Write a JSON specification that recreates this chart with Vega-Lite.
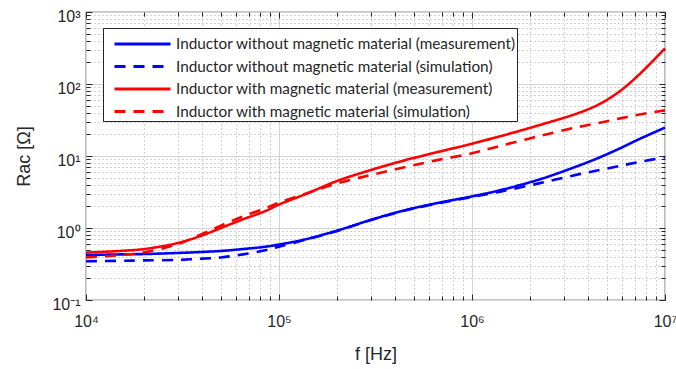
{
  "$schema": "https://vega.github.io/schema/vega-lite/v6.json",
  "width": 579,
  "height": 288,
  "autosize": {"type": "none"},
  "padding": {"left": 86, "top": 12, "right": 11, "bottom": 69},
  "background": "white",
  "config": {
    "view": {"stroke": "#262626", "strokeWidth": 1.2},
    "axis": {"labelFont": "Liberation Sans", "titleFont": "Liberation Sans", "labelColor": "#262626", "titleColor": "#262626", "tickColor": "#262626", "domain": false}
  },
  "datasets": {
    "curves": [
      {"f": 10000, "R": 0.42, "series": "Inductor without magnetic material (measurement)"},
      {"f": 15000, "R": 0.43, "series": "Inductor without magnetic material (measurement)"},
      {"f": 20000, "R": 0.435, "series": "Inductor without magnetic material (measurement)"},
      {"f": 30000, "R": 0.45, "series": "Inductor without magnetic material (measurement)"},
      {"f": 40000, "R": 0.465, "series": "Inductor without magnetic material (measurement)"},
      {"f": 50000, "R": 0.48, "series": "Inductor without magnetic material (measurement)"},
      {"f": 65000, "R": 0.51, "series": "Inductor without magnetic material (measurement)"},
      {"f": 85000, "R": 0.55, "series": "Inductor without magnetic material (measurement)"},
      {"f": 100000, "R": 0.59, "series": "Inductor without magnetic material (measurement)"},
      {"f": 135000, "R": 0.69, "series": "Inductor without magnetic material (measurement)"},
      {"f": 200000, "R": 0.92, "series": "Inductor without magnetic material (measurement)"},
      {"f": 300000, "R": 1.3, "series": "Inductor without magnetic material (measurement)"},
      {"f": 440000, "R": 1.74, "series": "Inductor without magnetic material (measurement)"},
      {"f": 650000, "R": 2.2, "series": "Inductor without magnetic material (measurement)"},
      {"f": 1000000, "R": 2.75, "series": "Inductor without magnetic material (measurement)"},
      {"f": 1400000, "R": 3.35, "series": "Inductor without magnetic material (measurement)"},
      {"f": 2250000, "R": 4.75, "series": "Inductor without magnetic material (measurement)"},
      {"f": 3600000, "R": 7.4, "series": "Inductor without magnetic material (measurement)"},
      {"f": 4600000, "R": 9.6, "series": "Inductor without magnetic material (measurement)"},
      {"f": 5850000, "R": 12.8, "series": "Inductor without magnetic material (measurement)"},
      {"f": 7400000, "R": 17.3, "series": "Inductor without magnetic material (measurement)"},
      {"f": 10000000, "R": 24.8, "series": "Inductor without magnetic material (measurement)"},

      {"f": 10000, "R": 0.345, "series": "Inductor without magnetic material (simulation)"},
      {"f": 15000, "R": 0.35, "series": "Inductor without magnetic material (simulation)"},
      {"f": 20000, "R": 0.355, "series": "Inductor without magnetic material (simulation)"},
      {"f": 30000, "R": 0.36, "series": "Inductor without magnetic material (simulation)"},
      {"f": 40000, "R": 0.375, "series": "Inductor without magnetic material (simulation)"},
      {"f": 50000, "R": 0.39, "series": "Inductor without magnetic material (simulation)"},
      {"f": 65000, "R": 0.43, "series": "Inductor without magnetic material (simulation)"},
      {"f": 85000, "R": 0.49, "series": "Inductor without magnetic material (simulation)"},
      {"f": 100000, "R": 0.55, "series": "Inductor without magnetic material (simulation)"},
      {"f": 135000, "R": 0.68, "series": "Inductor without magnetic material (simulation)"},
      {"f": 200000, "R": 0.91, "series": "Inductor without magnetic material (simulation)"},
      {"f": 300000, "R": 1.29, "series": "Inductor without magnetic material (simulation)"},
      {"f": 440000, "R": 1.72, "series": "Inductor without magnetic material (simulation)"},
      {"f": 650000, "R": 2.17, "series": "Inductor without magnetic material (simulation)"},
      {"f": 1000000, "R": 2.7, "series": "Inductor without magnetic material (simulation)"},
      {"f": 1400000, "R": 3.2, "series": "Inductor without magnetic material (simulation)"},
      {"f": 2250000, "R": 4.2, "series": "Inductor without magnetic material (simulation)"},
      {"f": 3600000, "R": 5.6, "series": "Inductor without magnetic material (simulation)"},
      {"f": 4600000, "R": 6.4, "series": "Inductor without magnetic material (simulation)"},
      {"f": 5850000, "R": 7.3, "series": "Inductor without magnetic material (simulation)"},
      {"f": 7400000, "R": 8.3, "series": "Inductor without magnetic material (simulation)"},
      {"f": 10000000, "R": 9.6, "series": "Inductor without magnetic material (simulation)"},

      {"f": 10000, "R": 0.455, "series": "Inductor with magnetic material (measurement)"},
      {"f": 15000, "R": 0.48, "series": "Inductor with magnetic material (measurement)"},
      {"f": 20000, "R": 0.51, "series": "Inductor with magnetic material (measurement)"},
      {"f": 30000, "R": 0.62, "series": "Inductor with magnetic material (measurement)"},
      {"f": 40000, "R": 0.79, "series": "Inductor with magnetic material (measurement)"},
      {"f": 50000, "R": 1.0, "series": "Inductor with magnetic material (measurement)"},
      {"f": 65000, "R": 1.32, "series": "Inductor with magnetic material (measurement)"},
      {"f": 85000, "R": 1.72, "series": "Inductor with magnetic material (measurement)"},
      {"f": 100000, "R": 2.12, "series": "Inductor with magnetic material (measurement)"},
      {"f": 135000, "R": 2.9, "series": "Inductor with magnetic material (measurement)"},
      {"f": 200000, "R": 4.5, "series": "Inductor with magnetic material (measurement)"},
      {"f": 300000, "R": 6.4, "series": "Inductor with magnetic material (measurement)"},
      {"f": 440000, "R": 8.6, "series": "Inductor with magnetic material (measurement)"},
      {"f": 650000, "R": 11.2, "series": "Inductor with magnetic material (measurement)"},
      {"f": 1000000, "R": 14.8, "series": "Inductor with magnetic material (measurement)"},
      {"f": 1400000, "R": 18.8, "series": "Inductor with magnetic material (measurement)"},
      {"f": 2250000, "R": 27, "series": "Inductor with magnetic material (measurement)"},
      {"f": 3600000, "R": 40, "series": "Inductor with magnetic material (measurement)"},
      {"f": 4600000, "R": 53, "series": "Inductor with magnetic material (measurement)"},
      {"f": 5850000, "R": 80, "series": "Inductor with magnetic material (measurement)"},
      {"f": 7400000, "R": 138, "series": "Inductor with magnetic material (measurement)"},
      {"f": 10000000, "R": 313, "series": "Inductor with magnetic material (measurement)"},

      {"f": 10000, "R": 0.39, "series": "Inductor with magnetic material (simulation)"},
      {"f": 15000, "R": 0.42, "series": "Inductor with magnetic material (simulation)"},
      {"f": 20000, "R": 0.46, "series": "Inductor with magnetic material (simulation)"},
      {"f": 30000, "R": 0.6, "series": "Inductor with magnetic material (simulation)"},
      {"f": 40000, "R": 0.83, "series": "Inductor with magnetic material (simulation)"},
      {"f": 50000, "R": 1.08, "series": "Inductor with magnetic material (simulation)"},
      {"f": 65000, "R": 1.45, "series": "Inductor with magnetic material (simulation)"},
      {"f": 85000, "R": 1.88, "series": "Inductor with magnetic material (simulation)"},
      {"f": 100000, "R": 2.25, "series": "Inductor with magnetic material (simulation)"},
      {"f": 135000, "R": 2.95, "series": "Inductor with magnetic material (simulation)"},
      {"f": 200000, "R": 4.15, "series": "Inductor with magnetic material (simulation)"},
      {"f": 300000, "R": 5.45, "series": "Inductor with magnetic material (simulation)"},
      {"f": 440000, "R": 6.9, "series": "Inductor with magnetic material (simulation)"},
      {"f": 650000, "R": 8.7, "series": "Inductor with magnetic material (simulation)"},
      {"f": 1000000, "R": 10.9, "series": "Inductor with magnetic material (simulation)"},
      {"f": 1400000, "R": 13.8, "series": "Inductor with magnetic material (simulation)"},
      {"f": 2250000, "R": 19, "series": "Inductor with magnetic material (simulation)"},
      {"f": 3600000, "R": 25.5, "series": "Inductor with magnetic material (simulation)"},
      {"f": 4600000, "R": 29, "series": "Inductor with magnetic material (simulation)"},
      {"f": 5850000, "R": 33.3, "series": "Inductor with magnetic material (simulation)"},
      {"f": 7400000, "R": 37.8, "series": "Inductor with magnetic material (simulation)"},
      {"f": 10000000, "R": 43, "series": "Inductor with magnetic material (simulation)"}
    ]
  },
  "data": {"name": "curves"},
  "resolve": {"axis": {"x": "independent", "y": "independent"}},
  "layer": [
    {
      "mark": {"type": "line", "opacity": 0},
      "encoding": {
        "x": {"field": "f", "type": "quantitative", "scale": {"type": "log", "domain": [10000, 10000000], "nice": false},
          "axis": {"orient": "top", "labels": false, "grid": false, "title": null, "domain": false,
            "values": [10000,20000,30000,40000,50000,60000,70000,80000,90000,100000,200000,300000,400000,500000,600000,700000,800000,900000,1000000,2000000,3000000,4000000,5000000,6000000,7000000,8000000,9000000,10000000],
            "tickSize": {"condition": {"test": "abs(log(datum.value)/LN10 - round(log(datum.value)/LN10)) < 0.001", "value": -6}, "value": -4}}},
        "y": {"field": "R", "type": "quantitative", "scale": {"type": "log", "domain": [0.1, 1000], "nice": false},
          "axis": {"orient": "right", "labels": false, "grid": false, "title": null, "domain": false,
            "values": [0.1,0.2,0.3,0.4,0.5,0.6,0.7,0.8,0.9,1,2,3,4,5,6,7,8,9,10,20,30,40,50,60,70,80,90,100,200,300,400,500,600,700,800,900,1000],
            "tickSize": {"condition": {"test": "abs(log(datum.value)/LN10 - round(log(datum.value)/LN10)) < 0.001", "value": -6}, "value": -4}}},
        "detail": {"field": "series"}
      }
    },
    {
      "mark": {"type": "line", "strokeWidth": 2.6, "interpolate": "catmull-rom"},
      "encoding": {
        "x": {"field": "f", "type": "quantitative", "scale": {"type": "log", "domain": [10000, 10000000], "nice": false},
          "axis": {"orient": "bottom", "title": "f [Hz]", "titleFontSize": 18, "titleFontWeight": "normal", "titlePadding": 14,
            "values": [10000,20000,30000,40000,50000,60000,70000,80000,90000,100000,200000,300000,400000,500000,600000,700000,800000,900000,1000000,2000000,3000000,4000000,5000000,6000000,7000000,8000000,9000000,10000000],
            "labelExpr": "abs(log(datum.value)/LN10 - round(log(datum.value)/LN10)) < 0.001 ? '10' + ['⁻¹','⁰','¹','²','³','⁴','⁵','⁶','⁷'][round(log(datum.value)/LN10)+1] : ''",
            "labelFontSize": 16, "labelPadding": 19, "labelFlush": false, "labelOverlap": false, "labelBound": false,
            "tickSize": {"condition": {"test": "abs(log(datum.value)/LN10 - round(log(datum.value)/LN10)) < 0.001", "value": -6}, "value": -4},
            "grid": true,
            "gridColor": {"condition": {"test": "abs(log(datum.value)/LN10 - round(log(datum.value)/LN10)) < 0.001", "value": "#d4d4d4"}, "value": "#a6a6a6"},
            "gridDash": {"condition": {"test": "abs(log(datum.value)/LN10 - round(log(datum.value)/LN10)) < 0.001", "value": []}, "value": [1, 3]}}},
        "y": {"field": "R", "type": "quantitative", "scale": {"type": "log", "domain": [0.1, 1000], "nice": false},
          "axis": {"orient": "left", "title": "Rac [Ω]", "titleFontSize": 18, "titleFontWeight": "normal", "titlePadding": 18,
            "values": [0.1,0.2,0.3,0.4,0.5,0.6,0.7,0.8,0.9,1,2,3,4,5,6,7,8,9,10,20,30,40,50,60,70,80,90,100,200,300,400,500,600,700,800,900,1000],
            "labelExpr": "abs(log(datum.value)/LN10 - round(log(datum.value)/LN10)) < 0.001 ? '10' + ['⁻¹','⁰','¹','²','³','⁴','⁵','⁶','⁷'][round(log(datum.value)/LN10)+1] : ''",
            "labelFontSize": 16, "labelPadding": 12, "labelOffset": 4, "labelFlush": false, "labelOverlap": false, "labelBound": false,
            "tickSize": {"condition": {"test": "abs(log(datum.value)/LN10 - round(log(datum.value)/LN10)) < 0.001", "value": -6}, "value": -4},
            "grid": true,
            "gridColor": {"condition": {"test": "abs(log(datum.value)/LN10 - round(log(datum.value)/LN10)) < 0.001", "value": "#d4d4d4"}, "value": "#a6a6a6"},
            "gridDash": {"condition": {"test": "abs(log(datum.value)/LN10 - round(log(datum.value)/LN10)) < 0.001", "value": []}, "value": [1, 3]}}},
        "color": {"field": "series", "type": "nominal",
          "scale": {"domain": ["Inductor without magnetic material (measurement)", "Inductor without magnetic material (simulation)", "Inductor with magnetic material (measurement)", "Inductor with magnetic material (simulation)"],
            "range": ["#0000ff", "#0000ff", "#ff0000", "#ff0000"]},
          "legend": {"orient": "none", "legendX": 17, "legendY": 16, "title": " ", "titleFontSize": 1, "titlePadding": 6, "symbolType": "stroke", "symbolSize": 3136, "symbolStrokeWidth": 3, "symbolOffset": 9,
            "clipHeight": 16, "rowPadding": 5.5, "padding": 1, "labelFont": "Lato", "labelFontSize": 15.3, "labelColor": "#262626", "labelOffset": 4, "labelLimit": 600,
            "labelExpr": "datum.label + '\u2002'",
            "strokeColor": "#262626", "fillColor": "white"}},
        "strokeDash": {"field": "series", "type": "nominal",
          "scale": {"domain": ["Inductor without magnetic material (measurement)", "Inductor without magnetic material (simulation)", "Inductor with magnetic material (measurement)", "Inductor with magnetic material (simulation)"],
            "range": [[1, 0], [11, 8], [1, 0], [11, 8]]},
          "legend": {"orient": "none", "legendX": 17, "legendY": 16, "title": " ", "titleFontSize": 1, "titlePadding": 6, "symbolType": "stroke", "symbolSize": 3136, "symbolStrokeWidth": 3, "symbolOffset": 9,
            "clipHeight": 16, "rowPadding": 5.5, "padding": 1, "labelFont": "Lato", "labelFontSize": 15.3, "labelColor": "#262626", "labelOffset": 4, "labelLimit": 600,
            "labelExpr": "datum.label + '\u2002'",
            "strokeColor": "#262626", "fillColor": "white"}}
      }
    }
  ]
}
